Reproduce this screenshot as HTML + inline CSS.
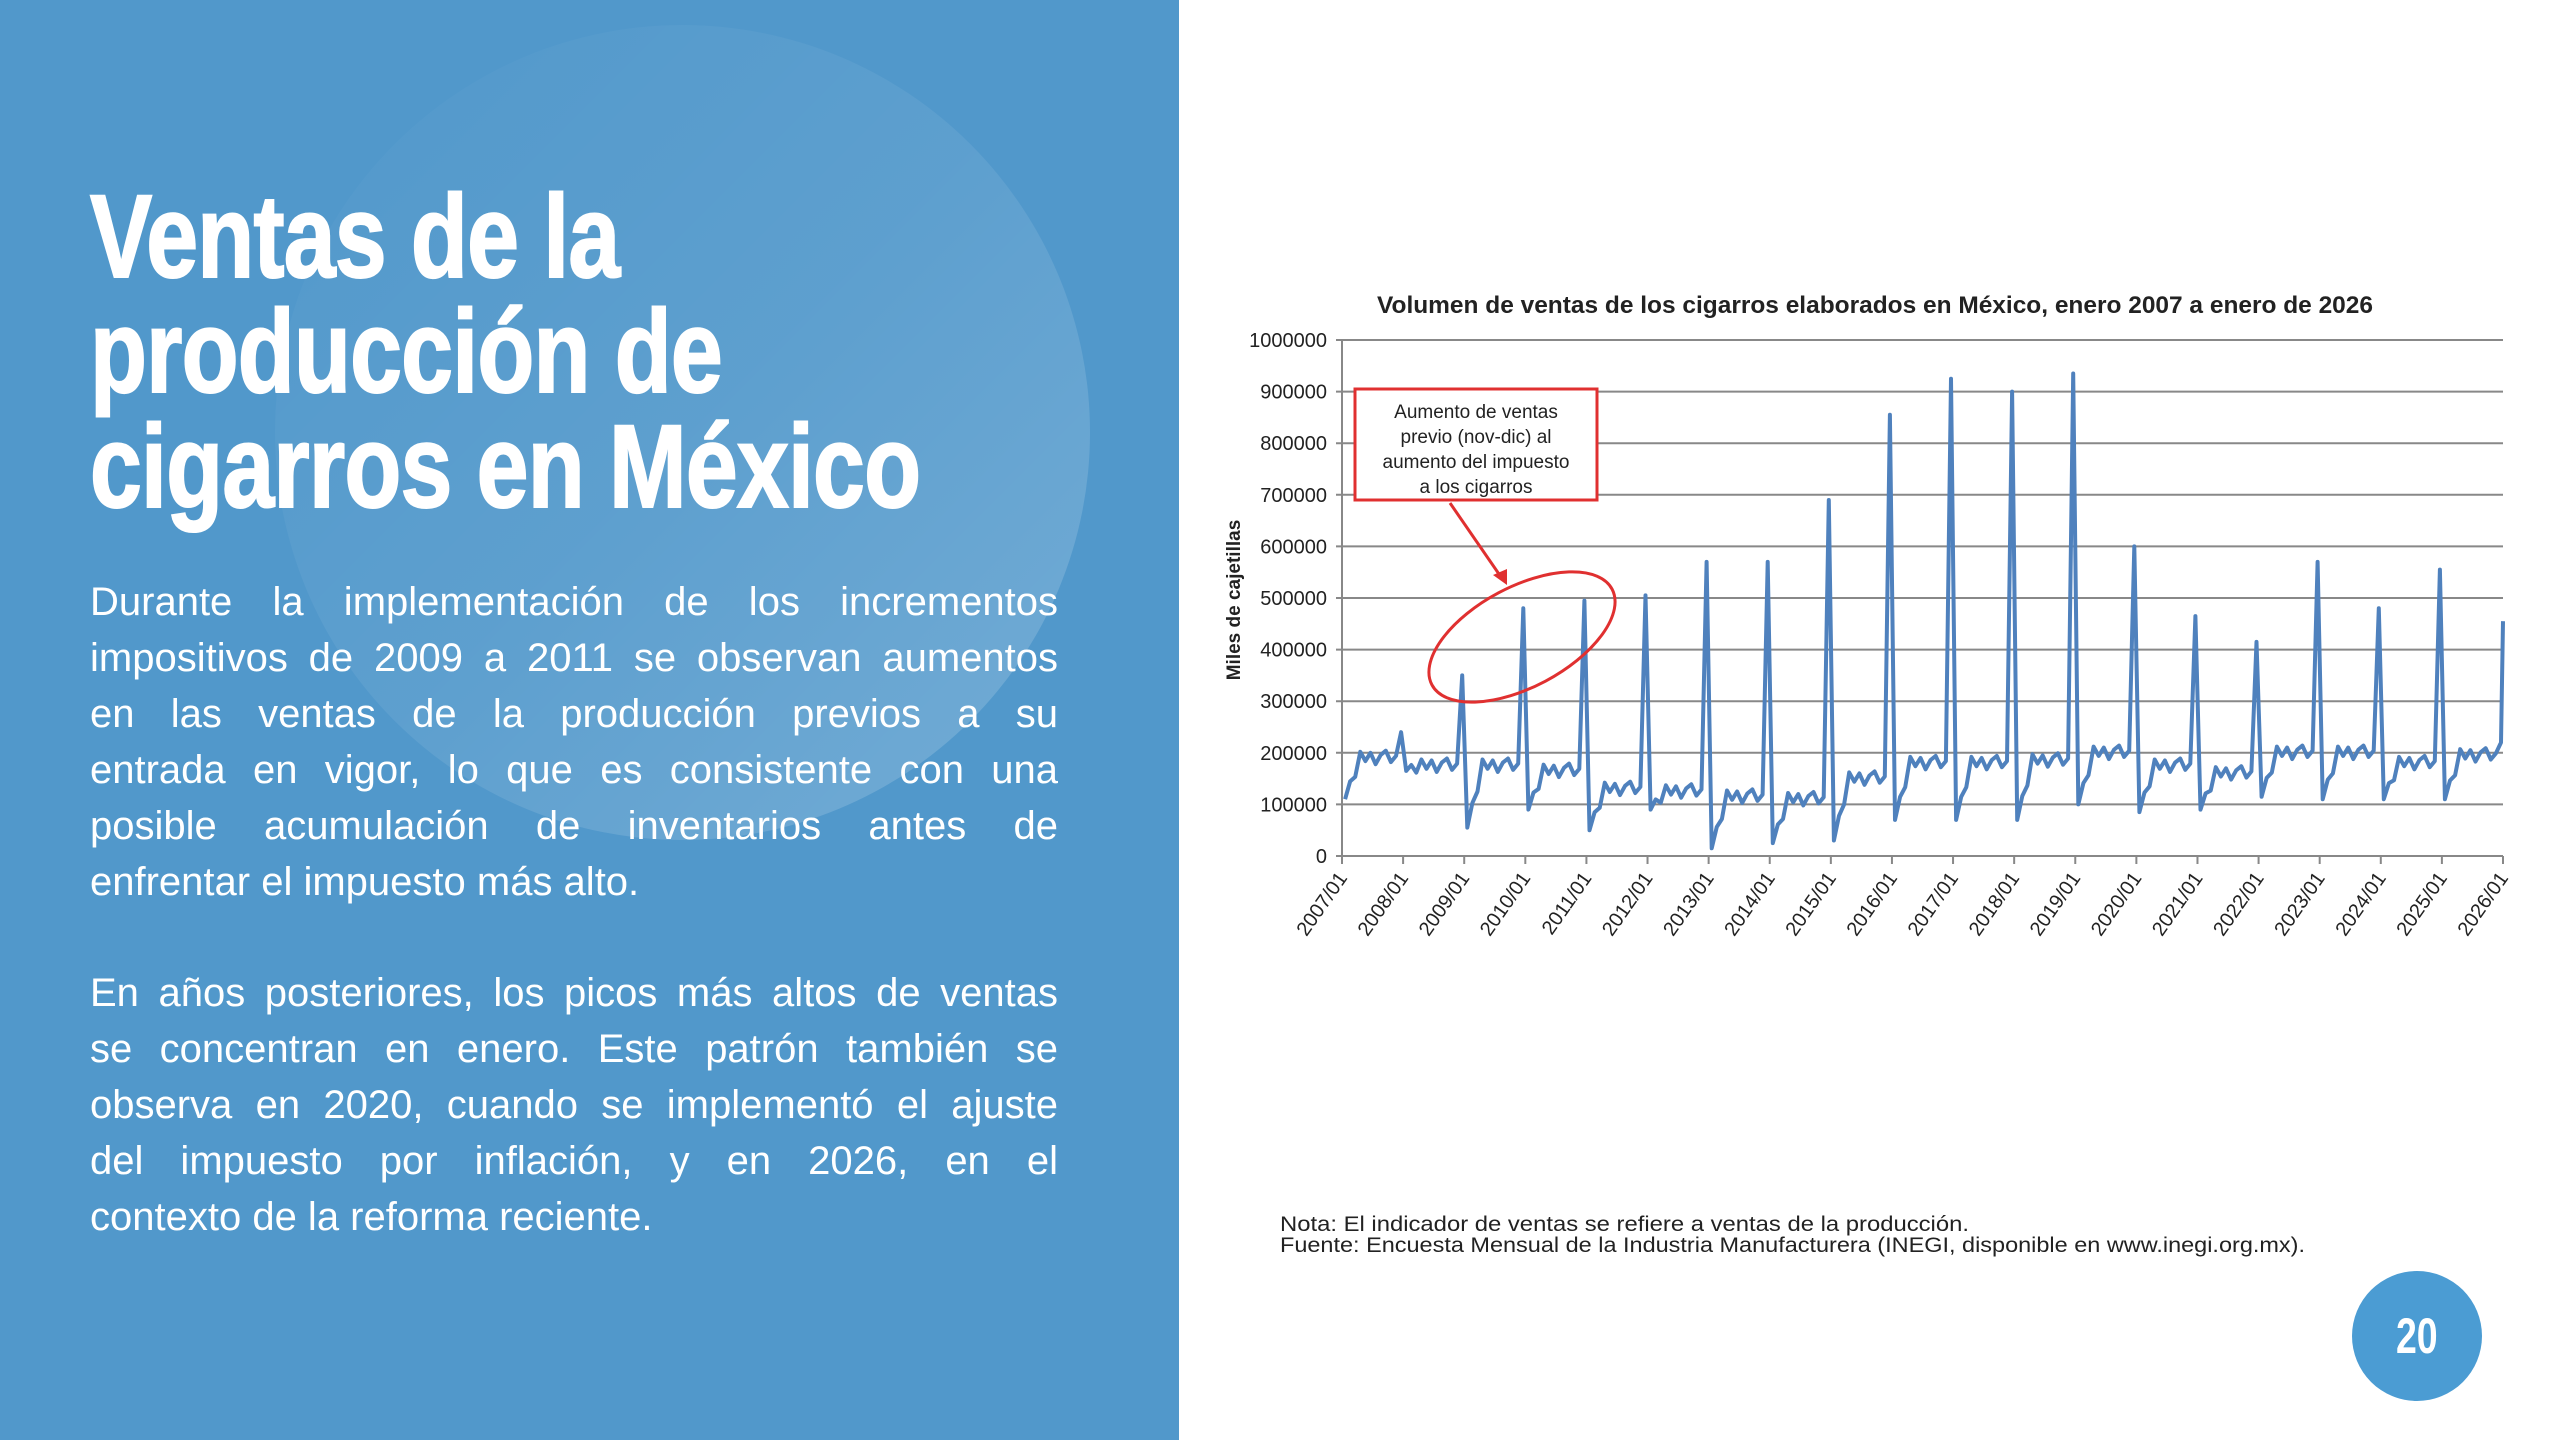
<!DOCTYPE html>
<html><head><meta charset="utf-8">
<style>
html,body{margin:0;padding:0;}
body{width:2560px;height:1440px;position:relative;overflow:hidden;background:#fff;font-family:"Liberation Sans",sans-serif;}
#left{position:absolute;left:0;top:0;width:1179px;height:1440px;background:#5198cb;overflow:hidden;}
#circ{position:absolute;left:275px;top:25px;width:815px;height:815px;border-radius:50%;background:linear-gradient(135deg,rgba(255,255,255,0.0),rgba(255,255,255,0.07) 50%,rgba(255,255,255,0.2));}
.t{position:absolute;left:90px;color:#fff;font-weight:bold;font-size:118px;white-space:nowrap;transform:scaleX(0.79);transform-origin:left top;line-height:118px;letter-spacing:-1px;-webkit-text-stroke:2px #fff;}
.p{position:absolute;left:90px;width:968px;color:#fff;font-size:40px;line-height:56px;}
.p div{text-align:justify;text-align-last:justify;white-space:nowrap;}
.p div.l{text-align-last:left;}
#num{position:absolute;left:2352px;top:1271px;width:130px;height:130px;border-radius:50%;background:#4b9cd3;color:#fff;font-weight:bold;font-size:50px;text-align:center;line-height:130px;}
#num span{display:inline-block;transform:scaleX(0.75);}
</style></head><body>
<div id="left"><div id="circ"></div>
<div class="t" style="top:178px">Ventas de la</div>
<div class="t" style="top:293px">producción de</div>
<div class="t" style="top:408px">cigarros en México</div>
<div class="p" style="top:574px">
<div>Durante la implementación de los incrementos</div>
<div>impositivos de 2009 a 2011 se observan aumentos</div>
<div>en las ventas de la producción previos a su</div>
<div>entrada en vigor, lo que es consistente con una</div>
<div>posible acumulación de inventarios antes de</div>
<div class="l">enfrentar el impuesto más alto.</div></div>
<div class="p" style="top:965px">
<div>En años posteriores, los picos más altos de ventas</div>
<div>se concentran en enero. Este patrón también se</div>
<div>observa en 2020, cuando se implementó el ajuste</div>
<div>del impuesto por inflación, y en 2026, en el</div>
<div class="l">contexto de la reforma reciente.</div></div>
</div>
<svg id="ch" width="2560" height="1440" style="position:absolute;left:0;top:0" font-family="Liberation Sans, sans-serif">
<text x="1377" y="313" textLength="996" lengthAdjust="spacingAndGlyphs" font-size="24" font-weight="bold" fill="#222">Volumen de ventas de los cigarros elaborados en México, enero 2007 a enero de 2026</text>
<g id="grid" stroke="#888" stroke-width="2"></g>
<g id="yl" font-size="20" fill="#222" text-anchor="end"></g>
<g id="xl" font-size="20" fill="#222"></g>
<text transform="translate(1240,600) rotate(-90)" text-anchor="middle" font-size="19" font-weight="bold" fill="#222">Miles de cajetillas</text>
<polyline id="ln" fill="none" stroke="#4f81bd" stroke-width="4" stroke-linejoin="round"></polyline>
<rect x="1355" y="389" width="242" height="111" fill="#fff" stroke="#e03030" stroke-width="3"/>
<g font-size="19" fill="#222" text-anchor="middle">
<text x="1476" y="418">Aumento de ventas</text>
<text x="1476" y="443">previo (nov-dic) al</text>
<text x="1476" y="468">aumento del impuesto</text>
<text x="1476" y="493">a los cigarros</text></g>
<line x1="1450" y1="503" x2="1501" y2="577" stroke="#e03030" stroke-width="3"/>
<polygon points="1507,585 1493,575 1507,569" fill="#e03030"/>
<ellipse cx="1522" cy="637" rx="102" ry="50" transform="rotate(-28 1522 637)" fill="none" stroke="#e03030" stroke-width="3"/>
<text x="1280" y="1231" textLength="689" lengthAdjust="spacingAndGlyphs" font-size="21" fill="#222">Nota: El indicador de ventas se refiere a ventas de la producción.</text>
<text x="1280" y="1252" textLength="1025" lengthAdjust="spacingAndGlyphs" font-size="21" fill="#222">Fuente: Encuesta Mensual de la Industria Manufacturera (INEGI, disponible en www.inegi.org.mx).</text>
</svg>
<div id="num"><span>20</span></div>
<script>
var X0=1342,X1=2503,Y0=856,Y1=340;
function yv(v){return Y0-(v/1000)*(Y0-Y1)/1000;}
var g=document.getElementById('grid'),yl=document.getElementById('yl'),xl=document.getElementById('xl'),s='',t='',u='';
for(var i=0;i<=10;i++){var y=yv(i*100000);s+='<line x1="'+(X0-6)+'" y1="'+y+'" x2="'+X1+'" y2="'+y+'"/>';t+='<text x="1327" y="'+(y+7)+'">'+(i*100000)+'</text>';}
s+='<line x1="'+X0+'" y1="'+Y1+'" x2="'+X0+'" y2="'+Y0+'"/>';
var dx=(X1-X0)/19;
for(var k=0;k<=19;k++){var x=X0+k*dx;s+='<line x1="'+x+'" y1="'+Y0+'" x2="'+x+'" y2="'+(Y0+8)+'"/>';u+='<text transform="translate('+(x+6)+','+(Y0+22)+') rotate(-55)" text-anchor="end">'+(2007+k)+'/01</text>';}
g.innerHTML=s;yl.innerHTML=t;xl.innerHTML=u;
var P=[[110,190,240],[165,175,350],[55,175,480],[90,165,495],[50,130,505],[90,125,570],[15,115,570],[25,110,690],[30,150,855],[70,180,925],[70,180,900],[70,185,935],[100,200,600],[85,175,465],[90,160,415],[115,200,570],[110,200,480],[110,180,555],[110,195,220]];
var w=[0,8,-10,12,-6,10,-12,6,14,-8,4,0];
var pts=[];
for(var a=0;a<19;a++){var p=P[a];for(var m=0;m<12;m++){var v;if(m==0)v=p[0];else if(m==11)v=p[2];else{v=p[0]+(p[1]-p[0])*Math.min(1,m/3)+w[m];}
pts.push((X0+(a+(m+0.6)/12)*dx).toFixed(1)+','+yv(v*1000).toFixed(1));}}
pts.push(X1+','+yv(455000).toFixed(1));
document.getElementById('ln').setAttribute('points',pts.join(' '));
</script>
</body></html>
